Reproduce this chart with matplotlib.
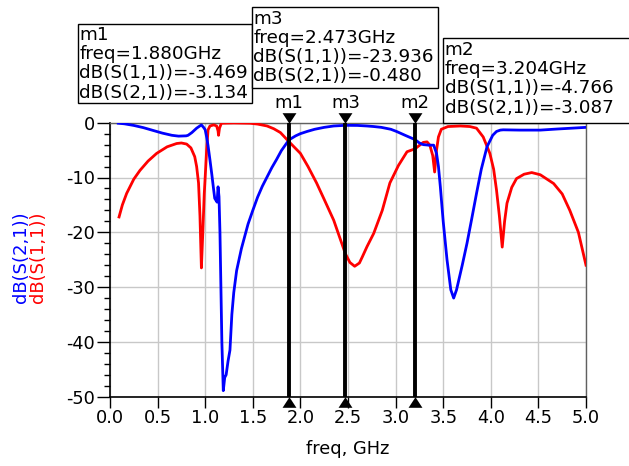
import matplotlib
matplotlib.use("Agg")
import matplotlib.pyplot as plt
from matplotlib.patches import Rectangle
from matplotlib.transforms import offset_copy

# ---------------- data ----------------
freq_s21 = [0.087, 0.15, 0.25, 0.35, 0.45, 0.55, 0.65, 0.72, 0.80, 0.82, 0.86, 0.91,
            0.96, 0.985, 1.00, 1.015, 1.03, 1.05, 1.07, 1.085, 1.10, 1.125, 1.135, 1.145,
            1.155, 1.165, 1.175, 1.19, 1.205, 1.22, 1.24, 1.26, 1.28, 1.30, 1.33, 1.38,
            1.45, 1.50, 1.55, 1.60, 1.65, 1.70, 1.75, 1.80, 1.88, 1.95, 2.00, 2.07, 2.15,
            2.25, 2.35, 2.473, 2.60, 2.70, 2.77, 2.85, 2.95, 3.01, 3.10, 3.204, 3.25, 3.29,
            3.35, 3.40, 3.43, 3.45, 3.47, 3.50, 3.54, 3.58, 3.61, 3.64, 3.70, 3.75, 3.80,
            3.85, 3.90, 3.96, 4.02, 4.06, 4.10, 4.13, 4.30, 4.52, 4.70, 4.85, 5.00]
db_s21 = [-0.1, -0.2, -0.5, -0.9, -1.4, -1.9, -2.3, -2.45, -2.4, -2.3, -1.8, -1.0,
          -0.4, -0.9, -1.3, -2.6, -4.2, -6.8, -9.5, -11.7, -13.8, -14.5, -11.7, -13.5,
          -20.0, -30.0, -40.0, -48.9, -46.5, -46.0, -43.5, -41.5, -35.0, -31.0, -27.0, -23.0,
          -18.5, -16.0, -13.6, -11.6, -9.9, -8.2, -6.7, -5.1, -3.134, -2.4, -2.0, -1.6, -1.2,
          -0.85, -0.6, -0.48, -0.5, -0.6, -0.7, -0.85, -1.2, -1.6, -2.3, -3.087, -3.7, -4.0,
          -4.1, -4.1, -5.6, -8.0, -11.7, -18.0, -25.0, -30.5, -32.0, -30.5, -26.0, -22.0, -17.5,
          -12.9, -8.5, -4.4, -2.3, -1.6, -1.35, -1.3, -1.35, -1.35, -1.15, -1.0, -0.85]

freq_s11 = [0.095, 0.13, 0.175, 0.25, 0.315, 0.40, 0.49, 0.60, 0.70, 0.75, 0.805, 0.85,
            0.89, 0.91, 0.93, 0.945, 0.96, 0.975, 0.99, 1.00, 1.015, 1.03, 1.05, 1.09,
            1.12, 1.135, 1.14, 1.15, 1.17, 1.30, 1.47, 1.55, 1.65, 1.72, 1.79, 1.88, 2.00,
            2.08, 2.17, 2.25, 2.35, 2.42, 2.473, 2.52, 2.57, 2.62, 2.65, 2.70, 2.77, 2.86,
            2.94, 3.03, 3.12, 3.204, 3.29, 3.33, 3.36, 3.39, 3.41, 3.43, 3.45, 3.48, 3.55,
            3.68, 3.78, 3.85, 3.92, 3.99, 4.03, 4.06, 4.09, 4.12, 4.145, 4.17, 4.22, 4.27,
            4.35, 4.43, 4.52, 4.66, 4.75, 4.83, 4.92, 5.00]
db_s11 = [-17.2, -15.0, -12.9, -10.3, -8.7, -7.0, -5.6, -4.4, -3.8, -3.7, -3.9, -4.6,
          -6.2, -8.0, -11.0, -17.0, -26.5, -20.0, -13.0, -9.9, -5.0, -1.3, -0.6, -0.4,
          -0.6, -1.5, -2.3, -1.0, -0.1, -0.05, -0.1, -0.25, -0.6, -1.1, -1.8, -3.469, -5.6,
          -8.0, -11.0, -14.0, -17.8, -21.3, -23.936, -25.5, -26.2, -25.6, -24.5, -22.6, -20.2, -16.0,
          -11.0, -7.8, -5.3, -4.766, -3.6, -3.5, -4.1, -6.0, -9.0, -5.0, -2.6, -1.2, -0.7,
          -0.6, -0.7, -1.0, -2.6, -5.6, -8.5, -12.3, -17.0, -22.7, -18.0, -14.7, -11.8, -10.2,
          -9.4, -9.1, -9.5, -11.1, -13.0, -16.0, -20.0, -26.0]

marker_names = ["m1", "m3", "m2"]
marker_freqs = [1.880, 2.473, 3.204]
marker_s11 = ["-3.469", "-23.936", "-4.766"]
marker_s21 = ["-3.134", "-0.480", "-3.087"]

x_ticks = [0.0, 0.5, 1.0, 1.5, 2.0, 2.5, 3.0, 3.5, 4.0, 4.5, 5.0]
y_ticks = [-50, -40, -30, -20, -10, 0]

# ---------------- figure ----------------
W, H = 629, 466
fig = plt.figure(figsize=(W / 100, H / 100), dpi=100)
plt.rcParams['font.family'] = ['DejaVu Sans']

def fx(px):
    return px / W

def fy(py):
    return 1 - py / H

ax_left, ax_right, ax_top, ax_bot = 110, 586, 122.7, 396.7
ax = fig.add_axes([fx(ax_left), fy(ax_bot), fx(ax_right - ax_left), (ax_bot - ax_top) / H])

ax.plot(freq_s11, db_s11, color='#ff0000', lw=2.0, zorder=3)
ax.plot(freq_s21, db_s21, color='#0000ff', lw=2.0, zorder=3)

ax.set_xlim(0, 5)
ax.set_ylim(-50, 0)
ax.set_xticks(x_ticks)
ax.set_xticklabels([f"{v:.1f}" for v in x_ticks])
ax.set_yticks(y_ticks)
ax.set_yticklabels([str(v) for v in y_ticks])
ax.set_yticks(range(-50, 1, 2), minor=True)
ax.grid(True, which='major', color='#c8c8c8', lw=1.0, zorder=1)
ax.tick_params(axis='x', which='major', direction='out', length=7.7, width=1.0,
               labelsize=12.8, pad=1.5, colors='black')
ax.tick_params(axis='y', which='major', direction='out', length=9.5, width=1.0,
               labelsize=12.8, pad=1.2)
ax.tick_params(axis='y', which='minor', direction='out', length=4.3, width=1.0)
for s in ['left', 'bottom']:
    ax.spines[s].set_color('black')
    ax.spines[s].set_linewidth(1.2)
for s in ['top', 'right']:
    ax.spines[s].set_color('#606060')
    ax.spines[s].set_linewidth(1.0)

ax.set_xlabel("freq, GHz", fontsize=12.8, labelpad=9)

# y labels (two coloured lines)
fig.text(fx(21), fy(257), "dB(S(2,1))", color='#0000ff', rotation=90,
         ha='center', va='center', fontsize=13)
fig.text(fx(37.5), fy(257), "dB(S(1,1))", color='#ff0000', rotation=90,
         ha='center', va='center', fontsize=13)

# marker triangle shapes (flattened)
tri_down = [(-5.5, 4.2), (5.5, 4.2), (0.0, -4.2)]
tri_up = [(-5.5, -4.2), (5.5, -4.2), (0.0, 4.2)]

tr = ax.get_xaxis_transform()
tr_up = offset_copy(tr, fig=fig, x=0, y=5.0, units='dots')
tr_dn = offset_copy(tr, fig=fig, x=0, y=-5.0, units='dots')
for name, f in zip(marker_names, marker_freqs):
    ax.plot([f, f], [-50, 0], color='black', lw=2.8, zorder=4, solid_capstyle='butt')
    ax.plot([f], [1.0], transform=tr_up, marker=tri_down, markersize=10.0, color='black',
            clip_on=False, zorder=5, markeredgewidth=0)
    ax.plot([f], [0.0], transform=tr_dn, marker=tri_up, markersize=10.0, color='black',
            clip_on=False, zorder=5, markeredgewidth=0)
    # label above triangle
    xpx = ax_left + f / 5 * (ax_right - ax_left)
    fig.text(fx(xpx), fy(103), name, ha='center', va='center', fontsize=13)

# marker readout boxes: (left, top, right, bottom) in pixels and first text line y
boxes = {
    "m1": (78, 24, 252, 102.5, 35),
    "m3": (252, 7, 438, 88, 18.5),
    "m2": (443, 38, 640, 123, 50),
}
order = ["m1", "m3", "m2"]
for name in order:
    i = marker_names.index(name)
    l, t, r, b, y0 = boxes[name]
    rect = Rectangle((fx(l), fy(b)), (r - l) / W, (b - t) / H, transform=fig.transFigure,
                     facecolor='white', edgecolor='black', lw=1.0, zorder=10)
    fig.add_artist(rect)
    lines = [name, f"freq={marker_freqs[i]:.3f}GHz",
             f"dB(S(1,1))={marker_s11[i]}", f"dB(S(2,1))={marker_s21[i]}"]
    for k, line in enumerate(lines):
        fig.text(fx(l + 1.5), fy(y0 + k * 19.2), line, ha='left', va='center',
                 fontsize=13.2, zorder=11)

fig.savefig("out.png", dpi=100)
